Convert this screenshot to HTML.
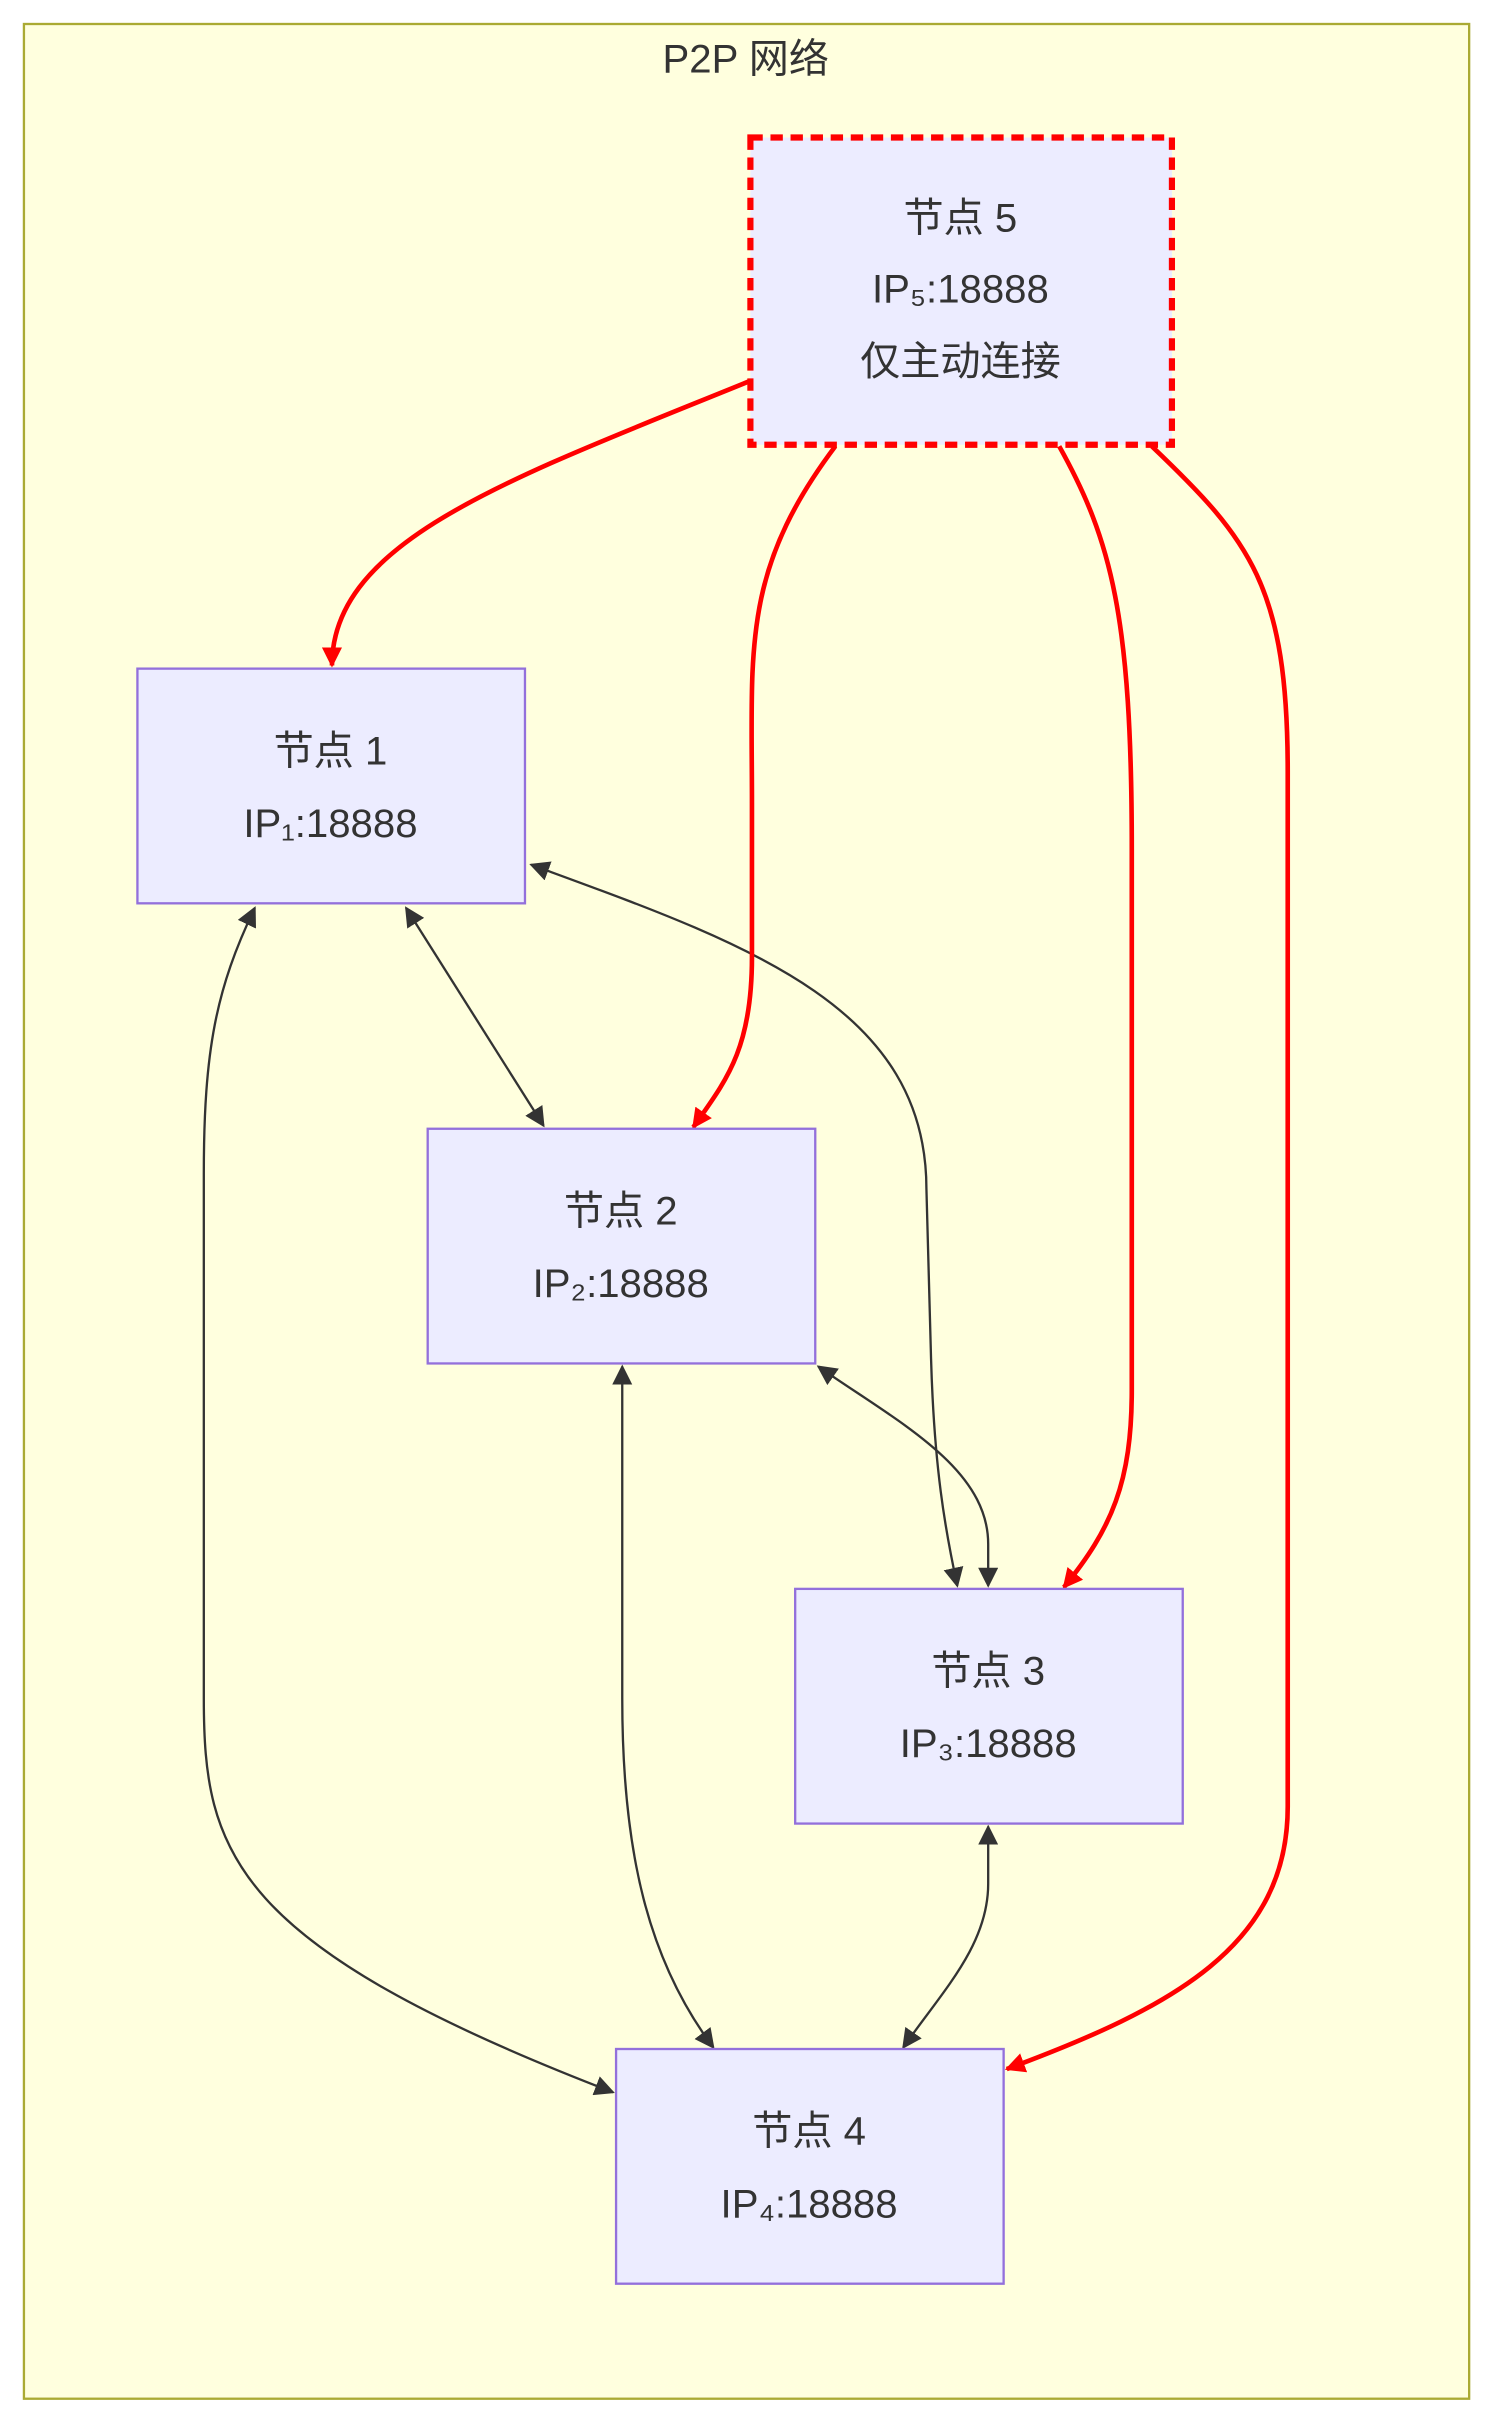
<!DOCTYPE html>
<html><head><meta charset="utf-8"><style>
html,body{margin:0;padding:0;background:#fff;}
svg{display:block;}
text{font-family:"Liberation Sans","Noto Sans CJK SC",sans-serif;fill:#333;}
</style></head><body>
<svg width="1490" height="2415" viewBox="0 0 965 1564" xmlns="http://www.w3.org/2000/svg">
<defs>
<marker id="ab" viewBox="0 0 10 10" refX="9" refY="5" markerWidth="13" markerHeight="13" markerUnits="userSpaceOnUse" orient="auto-start-reverse"><path d="M0,0 L10,5 L0,10 z" fill="#333"/></marker>
<marker id="ar" viewBox="0 0 10 10" refX="9" refY="5" markerWidth="13" markerHeight="13" markerUnits="userSpaceOnUse" orient="auto-start-reverse"><path d="M0,0 L10,5 L0,10 z" fill="#f00"/></marker>
</defs>
<rect x="15.5" y="15.5" width="936" height="1538" fill="#ffffde" stroke="#aaaa33" stroke-width="1.5"/>
<text x="483" y="47" font-size="26" text-anchor="middle">P2P 网络</text>

<g fill="none" stroke="#333" stroke-width="1.5">
<path d="M165,588 C140,640 132,680 132,760 L132,1100 C132,1200 150,1260 397,1355" marker-start="url(#ab)" marker-end="url(#ab)"/>
<path d="M263,588 L352,729" marker-start="url(#ab)" marker-end="url(#ab)"/>
<path d="M344,560 C480,610 600,650 600,770 L603,880 C605,950 612,990 620,1027" marker-start="url(#ab)" marker-end="url(#ab)"/>
<path d="M530,885 C580,920 640,950 640,1000 L640,1027" marker-start="url(#ab)" marker-end="url(#ab)"/>
<path d="M403,885 L403,1100 C403,1200 420,1270 462,1326" marker-start="url(#ab)" marker-end="url(#ab)"/>
<path d="M640,1183 L640,1220 C640,1260 610,1290 585,1326" marker-start="url(#ab)" marker-end="url(#ab)"/>
</g>
<g fill="none" stroke="#f00" stroke-width="3">
<path d="M485,247 C330,310 215,350 215,431" marker-end="url(#ar)"/>
<path d="M541,289 C480,370 487,420 487,520 L487,620 C487,680 470,700 449,730" marker-end="url(#ar)"/>
<path d="M686,289 C720,350 733,400 733,550 L733,900 C733,960 720,990 689,1028" marker-end="url(#ar)"/>
<path d="M746,289 C810,350 834,380 834,500 L834,1170 C834,1260 760,1300 652,1340" marker-end="url(#ar)"/>
</g>

<rect x="486" y="89" width="273" height="199" fill="#ececff" stroke="#f00" stroke-width="4" stroke-dasharray="8,5"/>
<text x="622" y="150" font-size="26" text-anchor="middle">节点 5</text>
<text x="622" y="196" font-size="26" text-anchor="middle">IP₅:18888</text>
<text x="622" y="243" font-size="26" text-anchor="middle">仅主动连接</text>

<g fill="#ececff" stroke="#9370db" stroke-width="1.5">
<rect x="89" y="433" width="251" height="152"/>
<rect x="277" y="731" width="251" height="152"/>
<rect x="515" y="1029" width="251" height="152"/>
<rect x="399" y="1327" width="251" height="152"/>
</g>
<g font-size="26" text-anchor="middle">
<text x="214" y="495">节点 1</text><text x="214" y="542">IP₁:18888</text>
<text x="402" y="793">节点 2</text><text x="402" y="840">IP₂:18888</text>
<text x="640" y="1091">节点 3</text><text x="640" y="1138">IP₃:18888</text>
<text x="524" y="1389">节点 4</text><text x="524" y="1436">IP₄:18888</text>
</g>
</svg>
</body></html>
